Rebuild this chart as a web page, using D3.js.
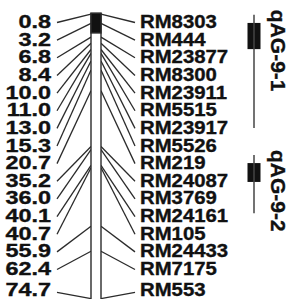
<!DOCTYPE html>
<html>
    <head>
        <meta charset="utf-8">
        <title>Chromosome 9 linkage map</title>
        <style>
            body { margin: 0; background: #fff; }
            text {
                font-family: 'Liberation Sans', Arial, sans-serif;
                font-weight: bold;
                fill: #111;
                stroke: #111;
                stroke-width: 0.35px;
            }
        </style>
        <script src="https://d3js.org/d3.v7.min.js"></script>
        <script>
            // marker positions (cM) and names
            var positions = [0.8, 3.2, 6.8, 8.4, 10.0, 11.0, 13.0, 15.3, 20.7, 35.2, 36.0, 40.1, 40.7, 55.9, 62.4, 74.7];
            var posLabels = ["0.8", "3.2", "6.8", "8.4", "10.0", "11.0", "13.0", "15.3", "20.7", "35.2", "36.0", "40.1", "40.7", "55.9", "62.4", "74.7"];
            var markers = ["RM8303", "RM444", "RM23877", "RM8300", "RM23911", "RM5515", "RM23917", "RM5526", "RM219", "RM24087", "RM3769", "RM24161", "RM105", "RM24433", "RM7175", "RM553"];
            // dark segment at the top of the chromosome (cM)
            var darkSegment = [0.6, 5.7];
            var chromRange = [0.6, 80];
            // QTL intervals (cM): whisker = outer, box = inner
            var qtlNames = ["qAG-9-1", "qAG-9-2"];
            var qtlOuter = [[1.0, 30.4], [37.4, 52.5]];
            var qtlInner = [[3.1, 9.9], [39.5, 44.4]];

            function run() {
                var width = 292, height = 299;
                var svg = d3.select("#chart").append("svg")
                    .attr("width", width)
                    .attr("height", height);

                var y = d3.scaleLinear().domain([0, 74.7]).range([11, 298.6]);

                // label rows, the last one sits a bit lower
                var rows = positions.map((d, i) => i == positions.length - 1 ? i + 0.3 : i);
                var rowY = d3.scaleLinear().domain([0, 14]).range([28, 275]);

                var chromL = 91, chromR = 101;
                var ink = "#2b2b2b";
                // lettering in the figure is stretched sideways
                var sxLeft = 1.3, sxRight = 1.13;

                // connector lines
                for (const i in positions) {
                    var ly = rowY(rows[i]) - 5.5;
                    svg.append("line")
                        .attr("x1", 57).attr("y1", ly)
                        .attr("x2", chromL).attr("y2", y(positions[i]))
                        .attr("stroke", ink).attr("stroke-width", 1.3);
                    svg.append("line")
                        .attr("x1", chromR).attr("y1", y(positions[i]))
                        .attr("x2", 135).attr("y2", ly)
                        .attr("stroke", ink).attr("stroke-width", 1.3);
                }

                // chromosome body
                svg.append("rect")
                    .attr("x", chromL).attr("y", y(chromRange[0]))
                    .attr("width", chromR - chromL)
                    .attr("height", y(chromRange[1]) - y(chromRange[0]))
                    .attr("fill", "#fff")
                    .attr("stroke", ink).attr("stroke-width", 1.4);
                svg.append("rect")
                    .attr("x", chromL).attr("y", y(darkSegment[0]))
                    .attr("width", chromR - chromL)
                    .attr("height", y(darkSegment[1]) - y(darkSegment[0]))
                    .attr("fill", "#111")
                    .attr("stroke", ink).attr("stroke-width", 1.4);

                // labels
                svg.selectAll("text.pos").data(posLabels).enter().append("text")
                    .attr("class", "pos")
                    .attr("transform", (d, i) => "translate(51," + Math.min(rowY(rows[i]), 296) + ") scale(" + sxLeft + ",1)")
                    .attr("text-anchor", "end")
                    .attr("font-size", 18)
                    .text(d => d);
                svg.selectAll("text.mk").data(markers).enter().append("text")
                    .attr("class", "mk")
                    .attr("transform", (d, i) => "translate(140," + Math.min(rowY(rows[i]), 296) + ") scale(" + sxRight + ",1)")
                    .attr("font-size", 18)
                    .text(d => d);

                // QTL bars
                var qx = 254;
                for (const i in qtlNames) {
                    svg.append("rect")
                        .attr("x", qx - 6.5).attr("y", y(qtlInner[i][0]))
                        .attr("width", 13)
                        .attr("height", y(qtlInner[i][1]) - y(qtlInner[i][0]))
                        .attr("fill", "#111");
                    svg.append("line")
                        .attr("x1", qx).attr("x2", qx)
                        .attr("y1", y(qtlOuter[i][0])).attr("y2", y(qtlOuter[i][1]))
                        .attr("stroke", "#444").attr("stroke-width", 1.5);
                    svg.append("text")
                        .attr("transform", "translate(271," + (y(qtlOuter[i][0]) - 5) + ") rotate(90) scale(1.05,1)")
                        .attr("font-size", 20)
                        .text(qtlNames[i]);
                }
            }
        </script>
    </head>
    <body onload="run()">
        <div id="chart"></div>
    </body>
</html>
